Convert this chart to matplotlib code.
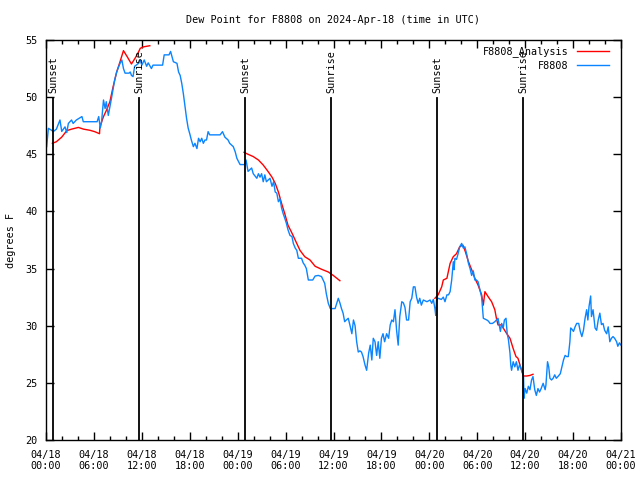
import numpy as np
import matplotlib
matplotlib.use('Agg')
import matplotlib.pyplot as plt
from matplotlib.ticker import MultipleLocator

plt.rcParams['font.family'] = ['DejaVu Sans Mono']

# hours since 2024-04-18 00:00 UTC
obs_hours = [0.08, 0.3, 0.7, 0.9, 1.3, 1.75, 1.97, 2.38, 2.6, 2.8, 3.2, 3.4, 3.8, 4.5, 4.67,
             6.4, 6.6, 6.8, 6.95, 7.2, 7.4, 7.55, 7.8, 8.2, 8.6, 8.85, 9.27, 9.5, 9.7, 9.9,
             10.4, 10.55, 10.7, 10.9, 11.1, 11.6, 11.8, 12.0, 12.3, 12.6, 12.8, 13.2, 13.4,
             14.6, 14.8, 15.4, 15.6, 15.8, 15.95, 16.4, 16.6, 16.8, 17.0, 17.2, 17.4, 17.6,
             17.8, 18.0, 18.2, 18.45, 18.65, 18.9, 19.1, 19.3, 19.5, 19.7, 19.9, 20.1, 20.3,
             20.5, 21.8, 22.1, 22.4, 22.8, 23.0, 23.45, 23.7, 23.9, 24.3, 24.9, 25.05, 25.3,
             25.75, 25.95, 26.4, 26.6, 26.8, 27.0, 27.2, 27.4, 27.6, 28.05, 28.3, 28.5, 28.7,
             28.9, 29.1, 29.3, 29.5, 29.7, 29.9, 30.1, 30.3, 30.55, 30.8, 30.97, 31.2, 31.4,
             31.6, 32.0, 32.2, 32.4, 32.6, 32.85, 33.4, 33.7, 34.1, 34.5, 34.9, 35.1, 35.35,
             35.6, 36.2, 36.6, 36.8, 37.0, 37.2, 37.4, 37.6, 37.85, 38.05, 38.3, 38.5, 38.7,
             38.9, 39.1, 39.3, 39.5, 39.7, 39.95, 40.15, 40.4, 40.6, 40.8, 40.98, 41.2, 41.4,
             41.6, 41.8, 42.0, 42.2, 42.4, 42.65, 42.9, 43.1, 43.3, 43.5, 43.7, 43.9, 44.1,
             44.3, 44.55, 44.75, 44.95, 45.15, 45.4, 45.6, 45.8, 46.0, 46.2, 46.4, 46.6, 46.8,
             47.0, 47.25, 47.7, 48.1, 48.3, 48.5, 48.7, 48.8, 48.9, 49.1, 49.5, 49.75, 49.96,
             50.2, 50.4, 50.6, 50.8, 51.0, 51.1, 51.2, 51.4, 51.6, 51.8, 52.05, 52.25, 52.45,
             52.7, 52.9, 53.1, 53.3, 53.5, 53.7, 53.9, 54.1, 54.35, 54.55, 54.76, 55.2, 55.4,
             55.6, 55.9, 56.2, 56.4, 56.6, 56.75, 56.9, 57.06, 57.25, 57.4, 57.6, 57.75, 57.9,
             58.1, 58.2, 58.3, 58.5, 58.7, 58.9, 59.1, 59.3, 59.55, 59.8, 59.85, 60.0, 60.2,
             60.4, 60.6, 60.8, 60.98, 61.2, 61.4, 61.6, 61.8, 62.0, 62.25, 62.5, 62.6, 62.8,
             62.95, 63.1, 63.3, 63.5, 63.7, 63.9, 64.1, 64.4, 64.6, 64.8, 65.0, 65.2, 65.4,
             65.6, 65.7, 65.85, 66.05, 66.25, 66.45, 66.7, 66.9, 67.1, 67.3, 67.5, 67.7, 67.85,
             68.0, 68.2, 68.3, 68.5, 68.75, 68.95, 69.15, 69.35, 69.55, 69.75, 69.95, 70.2,
             70.4, 70.6, 70.8, 71.0, 71.2, 71.45, 71.6, 71.8, 72.0]
obs_dewpt = [45.67, 47.27, 47.1, 46.98, 47.2, 48.0, 47.0, 47.4, 46.9, 47.7, 48.0, 47.7, 48.0, 48.3, 47.85,
             47.85, 48.3, 47.3, 47.8, 49.75, 49.0, 49.6, 48.4, 49.9, 51.5, 52.2, 52.96, 53.25, 52.5, 52.1,
             52.1, 52.2, 51.9, 51.8, 52.7, 52.96, 53.25, 52.8, 53.25, 52.7, 53.0, 52.5, 52.8,
             52.8, 53.7, 53.7, 54.0, 53.5, 53.1, 52.96, 52.2, 51.9, 51.2, 50.3, 49.2, 48.15,
             47.3, 46.8, 46.25, 45.67, 45.96, 45.5, 46.4, 46.1, 46.4, 45.96, 46.25, 46.25, 46.98,
             46.7, 46.7, 46.98, 46.5, 46.25, 45.96, 45.67, 45.2, 44.65, 44.1, 44.1, 44.5, 43.5,
             43.8, 43.3, 42.9, 43.3, 43.0, 43.3, 42.6, 43.2, 42.6, 42.9, 42.2, 42.6, 41.7,
             41.6, 40.85, 41.1, 40.3, 39.8, 39.4, 38.96, 38.4, 37.9, 37.8, 37.2, 36.8, 36.6,
             35.9, 35.9, 35.5, 35.3, 35.0, 34.0, 34.0, 34.35, 34.4, 34.3, 33.7, 32.8, 31.96,
             31.5, 31.5, 32.4, 32.0, 31.5, 31.1, 30.35, 30.5, 30.65, 30.07, 29.3, 30.5, 30.0,
             28.6, 27.7, 27.8, 27.7, 27.3, 26.55, 26.1, 27.6, 28.3, 27.0, 28.9, 28.6, 27.4,
             28.6, 27.15, 28.9, 29.3, 28.6, 29.3, 28.9, 30.07, 30.5, 30.35, 31.4, 29.6, 28.3,
             30.8, 32.1, 32.0, 31.6, 30.5, 30.5, 32.1, 32.4, 33.4, 33.4, 32.5, 31.96, 32.4,
             31.8, 32.25, 32.1, 32.25, 31.96, 32.3, 31.5, 30.9, 32.25, 32.4, 32.3, 32.5, 32.1,
             32.7, 32.7, 32.98, 34.0, 35.6, 34.9, 35.9, 35.8, 36.3, 36.9, 37.2, 36.8, 36.9,
             36.2, 35.45, 35.0, 34.4, 34.8, 34.0, 34.0, 33.85, 33.1, 32.5, 30.65, 30.5, 30.4,
             30.2, 30.2, 30.35, 30.5, 30.65, 30.07, 29.5, 30.2, 29.8, 30.5, 30.65, 29.3, 28.8,
             27.6, 26.55, 26.1, 26.85, 26.4, 26.85, 26.1, 26.6, 26.1, 25.55, 23.65, 24.5, 24.1,
             24.7, 24.4, 25.25, 25.55, 24.4, 23.9, 24.5, 24.2, 24.5, 24.96, 24.4, 24.8, 26.85,
             26.4, 25.4, 25.25, 25.4, 25.7, 25.4, 25.55, 25.8, 26.4, 27.0, 27.4, 27.3, 27.3,
             28.6, 29.8, 29.7, 29.5, 29.9, 30.2, 30.2, 29.5, 29.05, 29.6, 30.65, 31.4, 30.5,
             31.7, 32.6, 30.8, 31.4, 29.8, 29.6, 30.5, 31.1, 30.1, 30.2, 29.6, 29.3,
             29.9, 28.6, 28.9, 29.05, 28.9, 28.6, 28.2, 28.5, 28.3]

# analysis runs, one per night
ana1_hours = [0.8, 1.3, 1.97, 2.6, 3.2, 4.05, 4.7, 5.5, 6.1, 6.7, 6.75, 7.2, 7.6, 8.0, 8.4,
              8.85, 9.27, 9.7, 10.2, 10.7, 11.15, 11.55, 11.8, 12.2, 13.0]
ana1_dewpt = [45.96, 46.1, 46.5, 47.07, 47.2, 47.35, 47.2, 47.1, 46.98, 46.8, 47.4, 48.3, 48.9,
              49.6, 50.9, 52.2, 53.1, 54.07, 53.5, 52.9, 53.4, 53.9, 54.27, 54.4, 54.5]
ana2_hours = [24.8, 25.3, 25.95, 26.6, 27.2, 27.8, 28.3, 28.7, 29.1, 29.5, 29.9, 30.3, 30.8,
              31.2, 31.8, 32.4, 33.06, 33.7, 34.5, 35.35, 35.97, 36.8]
ana2_dewpt = [45.17, 45.0, 44.8, 44.5, 44.06, 43.5, 43.0, 42.46, 41.7, 40.7, 39.8, 38.8, 38.1,
              37.5, 36.6, 36.04, 35.75, 35.2, 34.94, 34.7, 34.4, 33.94]
ana3_hours = [48.7, 49.1, 49.55, 49.75, 50.2, 50.6, 51.0, 51.4, 51.8, 52.2, 52.5, 52.9, 53.3,
              53.7, 54.1, 54.55, 54.76, 54.96, 55.4, 55.8, 56.2, 56.4, 56.6, 57.06, 57.25, 57.7,
              58.1, 58.5, 58.85, 59.1, 59.55, 59.8, 60.2, 60.6, 60.98]
ana3_dewpt = [32.4, 32.7, 33.4, 34.0, 34.15, 35.45, 36.04, 36.3, 36.9, 37.06, 36.5, 35.6, 34.9,
              34.15, 33.56, 32.7, 31.8, 32.98, 32.5, 32.1, 31.4, 30.65, 30.07, 30.07, 29.8, 29.3,
              28.9, 28.0, 27.3, 27.15, 26.1, 25.6, 25.6, 25.65, 25.75]

sun_hours = [0.88, 11.65, 24.92, 35.69, 48.96, 59.73]
sun_labels = ['Sunset', 'Sunrise', 'Sunset', 'Sunrise', 'Sunset', 'Sunrise']

tick_hours = list(range(0, 73, 6))
tick_labels = ['04/18\n00:00', '04/18\n06:00', '04/18\n12:00', '04/18\n18:00',
               '04/19\n00:00', '04/19\n06:00', '04/19\n12:00', '04/19\n18:00',
               '04/20\n00:00', '04/20\n06:00', '04/20\n12:00', '04/20\n18:00',
               '04/21\n00:00']

red = '#ff0000'
blue = '#0a84ff'
fs = 7.3

fig = plt.figure(figsize=(6.4, 4.8), dpi=100)
ax = fig.add_axes([46 / 640, 40 / 480, 575 / 640, 400 / 480])

ax.plot(ana1_hours, ana1_dewpt, color=red, lw=1, label='F8808_Analysis')
ax.plot(ana2_hours, ana2_dewpt, color=red, lw=1)
ax.plot(ana3_hours, ana3_dewpt, color=red, lw=1)
ax.plot(obs_hours, obs_dewpt, color=blue, lw=1, label='F8808')

for h, lab in zip(sun_hours, sun_labels):
    ax.plot([h, h], [20, 49.9], color='black', lw=1.3)
    ax.text(h, 50.4, lab, rotation=90, ha='center', va='bottom', fontsize=fs)

ax.set_xlim(0, 72)
ax.set_ylim(20, 55)
ax.set_xticks(tick_hours)
ax.set_xticklabels(tick_labels)
ax.xaxis.set_minor_locator(MultipleLocator(2))
ax.yaxis.set_major_locator(MultipleLocator(5))
ax.tick_params(which='both', direction='in', top=True, right=True, labelsize=fs)
ax.tick_params(which='major', length=6, width=1)
ax.tick_params(which='minor', length=3, width=1)
ax.tick_params(axis='x', pad=7)
ax.tick_params(axis='y', pad=6)
for s in ax.spines.values():
    s.set_linewidth(1)

ax.set_title('Dew Point for F8808 on 2024-Apr-18 (time in UTC)', fontsize=fs, pad=12)
ax.set_ylabel('degrees F', fontsize=fs, labelpad=7)

ax.legend(loc='upper right', frameon=False, markerfirst=False, fontsize=fs,
          handlelength=3.2, handletextpad=0.8, labelspacing=0.35,
          borderaxespad=0.2, bbox_to_anchor=(0.99, 1.0))

fig.savefig('out.png', dpi=100)
